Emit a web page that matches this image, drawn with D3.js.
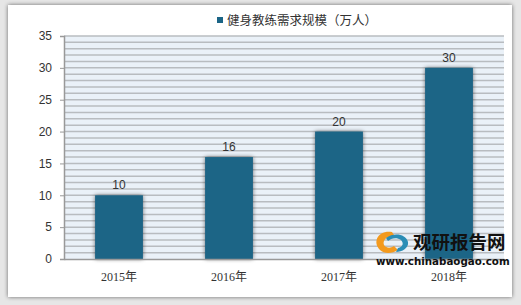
<!DOCTYPE html>
<html>
<head>
<meta charset="utf-8">
<script src="https://cdn.jsdelivr.net/npm/d3@7"></script>
<style>
  body { margin: 0; background: #e9e9e9; }
  svg { display: block; }
</style>
</head>
<body>
<script>
// chart data
var years = ["2015年", "2016年", "2017年", "2018年"];
var demand = [10, 16, 20, 30];
var yTicks = [0, 5, 10, 15, 20, 25, 30, 35];
var legendLabel = "健身教练需求规模（万人）";

var width = 521, height = 305;
var margin = {top: 36, right: 17, bottom: 46, left: 64};

var svg = d3.select("body").append("svg")
    .attr("width", width)
    .attr("height", height);

var defs = svg.append("defs");
var f = defs.append("filter").attr("id", "shadow")
    .attr("x", "-20%").attr("y", "-20%").attr("width", "140%").attr("height", "140%");
f.append("feGaussianBlur").attr("in", "SourceAlpha").attr("stdDeviation", 2.2);
f.append("feOffset").attr("dx", 0).attr("dy", 0).attr("result", "b");
f.append("feComponentTransfer").append("feFuncA").attr("type", "linear").attr("slope", 0.55);
var m = f.append("feMerge");
m.append("feMergeNode");
m.append("feMergeNode").attr("in", "SourceGraphic");

// outer panel
svg.append("rect").attr("x", 0).attr("y", 0).attr("width", width).attr("height", height).attr("fill", "#e6e6e6");
svg.append("rect")
    .attr("x", 8).attr("y", 5).attr("width", 504).attr("height", 292)
    .attr("fill", "#fff").attr("filter", "url(#shadow)");

var x = d3.scaleBand()
    .domain(years)
    .range([margin.left, width - margin.right])
    .paddingInner(0.565).paddingOuter(0.2825);

var y = d3.scaleLinear()
    .domain([0, 35])
    .range([height - margin.bottom, margin.top]);

// plot background
svg.append("rect")
    .attr("x", margin.left).attr("y", margin.top)
    .attr("width", width - margin.right - margin.left)
    .attr("height", y(0) - y(35))
    .attr("fill", "#eaf1f8");

// minor gridlines at every unit
svg.append("g").selectAll("line")
    .data(d3.range(1, 36))
    .enter().append("line")
    .attr("x1", margin.left).attr("x2", width - margin.right)
    .attr("y1", function(d){ return y(d); })
    .attr("y2", function(d){ return y(d); })
    .attr("stroke", "#b8bcc0").attr("stroke-width", 1.5);

// bars
svg.append("g").selectAll("rect")
    .data(demand)
    .enter().append("rect")
    .attr("x", function(d, i){ return x(years[i]); })
    .attr("y", function(d){ return y(d); })
    .attr("width", x.bandwidth())
    .attr("height", function(d){ return y(0) - y(d); })
    .attr("fill", "#1b6586")
    .attr("filter", "url(#shadow)");

// value labels
svg.append("g").selectAll("text")
    .data(demand)
    .enter().append("text")
    .attr("x", function(d, i){ return x(years[i]) + x.bandwidth() / 2; })
    .attr("y", function(d){ return y(d) - 6; })
    .attr("text-anchor", "middle")
    .attr("font-family", "'Liberation Sans', Arial, sans-serif")
    .attr("font-size", 12)
    .attr("fill", "#333")
    .text(function(d){ return d; });

// y axis
var yAxis = svg.append("g")
    .attr("transform", "translate(" + margin.left + ",0)")
    .call(d3.axisLeft(y).tickValues(yTicks).tickSize(4).tickPadding(8));
yAxis.select(".domain").attr("stroke", "#999").attr("stroke-width", 1.5);
yAxis.selectAll(".tick line").attr("stroke", "#999");
yAxis.selectAll("text")
    .attr("font-family", "'Liberation Sans', Arial, sans-serif")
    .attr("font-size", 12).attr("fill", "#333");

// x axis
var xAxis = svg.append("g")
    .attr("transform", "translate(0," + y(0) + ")")
    .call(d3.axisBottom(x).tickSize(0).tickPadding(13));
xAxis.select(".domain").attr("stroke", "#999").attr("stroke-width", 1.5);
xAxis.selectAll("text")
    .attr("font-family", "'Liberation Serif', 'Noto Sans CJK SC', serif")
    .attr("font-size", 12).attr("fill", "#333");

// legend
var lg = svg.append("g").attr("transform", "translate(217,15)");
lg.append("rect").attr("x", 0).attr("y", 2).attr("width", 6).attr("height", 6).attr("fill", "#1b6586");
lg.append("text").attr("x", 10).attr("y", 10)
    .attr("font-family", "'Noto Sans CJK SC', sans-serif")
    .attr("font-size", 12.5).attr("fill", "#333")
    .text(legendLabel);

// watermark
var wm = svg.append("g");
wm.append("path")
    .attr("d", "M392,232 C378,230 372,242 380,250 C384,254 392,254 398,250 L394,246 C388,250 382,246 384,241 C386,236 392,236 396,238 Z")
    .attr("fill", "#f39a1e");
wm.append("path")
    .attr("d", "M386,238 C394,232 406,234 408,242 C409,248 402,252 396,252 L398,248 C403,247 404,243 401,240 C397,237 391,238 388,241 Z")
    .attr("fill", "#2a8db6");
wm.append("text")
    .attr("x", 413).attr("y", 249)
    .attr("font-family", "'Noto Sans CJK SC', sans-serif")
    .attr("font-weight", "bold").attr("font-size", 18.5)
    .attr("fill", "#111")
    .text("观研报告网");
wm.append("text")
    .attr("x", 376).attr("y", 265)
    .attr("font-family", "'DejaVu Sans', sans-serif")
    .attr("font-weight", "bold").attr("font-size", 10.3)
    .attr("fill", "#111")
    .text("www.chinabaogao.com");
</script>
</body>
</html>
